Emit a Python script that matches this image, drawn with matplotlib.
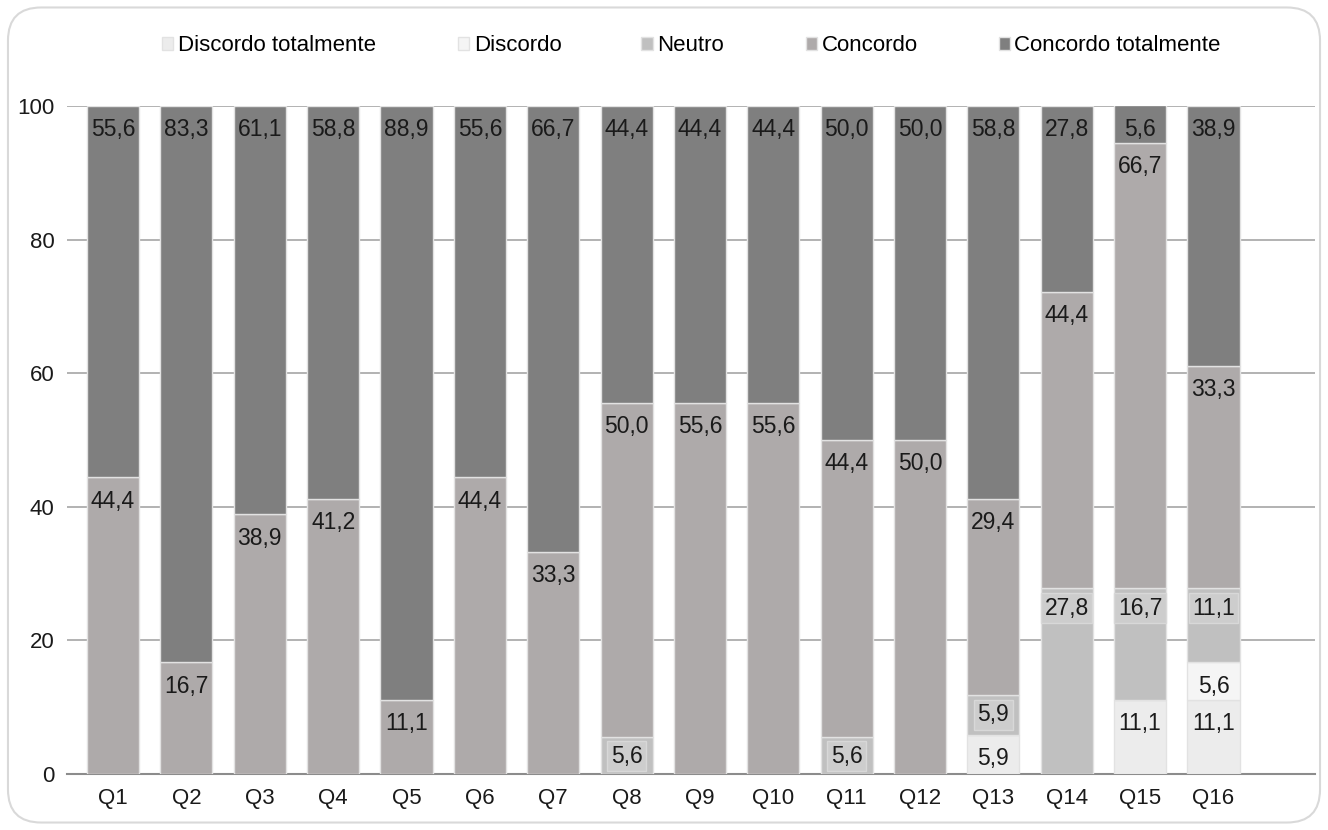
import matplotlib.pyplot as plt
import numpy as np
from matplotlib.patches import FancyBboxPatch

plt.rcParams["font.family"] = ["Liberation Sans", "DejaVu Sans"]

questions = ["Q1", "Q2", "Q3", "Q4", "Q5", "Q6", "Q7", "Q8",
             "Q9", "Q10", "Q11", "Q12", "Q13", "Q14", "Q15", "Q16"]
series_names = ["Discordo totalmente", "Discordo", "Neutro", "Concordo",
                "Concordo totalmente"]
discordo_tot = [0, 0, 0, 0, 0, 0, 0, 0, 0, 0, 0, 0, 5.9, 0, 11.1, 11.1]
discordo = [0, 0, 0, 0, 0, 0, 0, 0, 0, 0, 0, 0, 0, 0, 0, 5.6]
neutro = [0, 0, 0, 0, 0, 0, 0, 5.6, 0, 0, 5.6, 0, 5.9, 27.8, 16.7, 11.1]
concordo = [44.4, 16.7, 38.9, 41.2, 11.1, 44.4, 33.3, 50.0,
            55.6, 55.6, 44.4, 50.0, 29.4, 44.4, 66.7, 33.3]
concordo_tot = [55.6, 83.3, 61.1, 58.8, 88.9, 55.6, 66.7, 44.4,
                44.4, 44.4, 50.0, 50.0, 58.8, 27.8, 5.6, 38.9]

colors = ["#ececec", "#f5f5f5", "#c0c0c0", "#aeaaaa", "#7f7f7f"]
legend_x = [0.122, 0.345, 0.483, 0.607, 0.752]

fig = plt.figure(figsize=(13.28, 8.3), dpi=100)
ax = fig.add_axes([0.0505, 0.0675, 0.9395, 0.8048])

# rounded frame around the whole chart
frame = FancyBboxPatch((0.006, 0.009), 0.988, 0.982,
                       boxstyle="round,pad=0,rounding_size=0.025",
                       transform=fig.transFigure, facecolor="none",
                       edgecolor="#d9d9d9", linewidth=1.5, zorder=0,
                       mutation_aspect=1328 / 830)
fig.patches.append(frame)

x = np.arange(len(questions))
bottom = np.zeros(len(questions))
all_series = [discordo_tot, discordo, neutro, concordo, concordo_tot]
handles = []
for name, vals, col in zip(series_names, all_series, colors):
    vals = np.array(vals)
    bars = ax.bar(x, vals, 0.71, bottom=bottom, color=col,
                  edgecolor="#e2e2e2", linewidth=1, label=name, zorder=3)
    handles.append(bars)
    for xi, b, v in zip(x, bottom, vals):
        if v <= 0:
            continue
        box = None
        off = -9
        if name == "Neutro":
            box = dict(boxstyle="square,pad=0.15", facecolor="#cdcdcd",
                       edgecolor="#d8d8d8", linewidth=1)
            off = -6
        ax.annotate(f"{v:.1f}".replace(".", ","), (xi, min(b + v, 100)),
                    xytext=(0, off), textcoords="offset points",
                    ha="center", va="top", fontsize=16.5, color="#1a1a1a",
                    bbox=box, zorder=5, annotation_clip=False)
    bottom += vals

ax.set_xlim(-0.627, 16.38)
ax.set_ylim(0, 100)
ax.set_yticks([0, 20, 40, 60, 80, 100])
ax.set_xticks(x)
ax.set_xticklabels(questions)
ax.tick_params(axis="both", length=0, labelsize=16, colors="#1a1a1a")
ax.tick_params(axis="x", pad=10)
ax.tick_params(axis="y", pad=9)
ax.yaxis.grid(True, color="#a6a6a6", linewidth=1.2, zorder=0)
ax.set_axisbelow(True)
for side in ["top", "right", "left"]:
    ax.spines[side].set_visible(False)
ax.spines["bottom"].set_color("#8c8c8c")
ax.spines["bottom"].set_linewidth(1.5)

# one legend per entry so the spacing of the original can be kept
for h, name, lx in zip(handles, series_names, legend_x):
    leg = fig.legend([h], [name], loc="center left",
                     bbox_to_anchor=(lx, 0.945), frameon=False, fontsize=16,
                     handlelength=0.5, handleheight=0.5, handletextpad=0.2,
                     borderpad=0, borderaxespad=0)

fig.savefig("out.png", dpi=100)
